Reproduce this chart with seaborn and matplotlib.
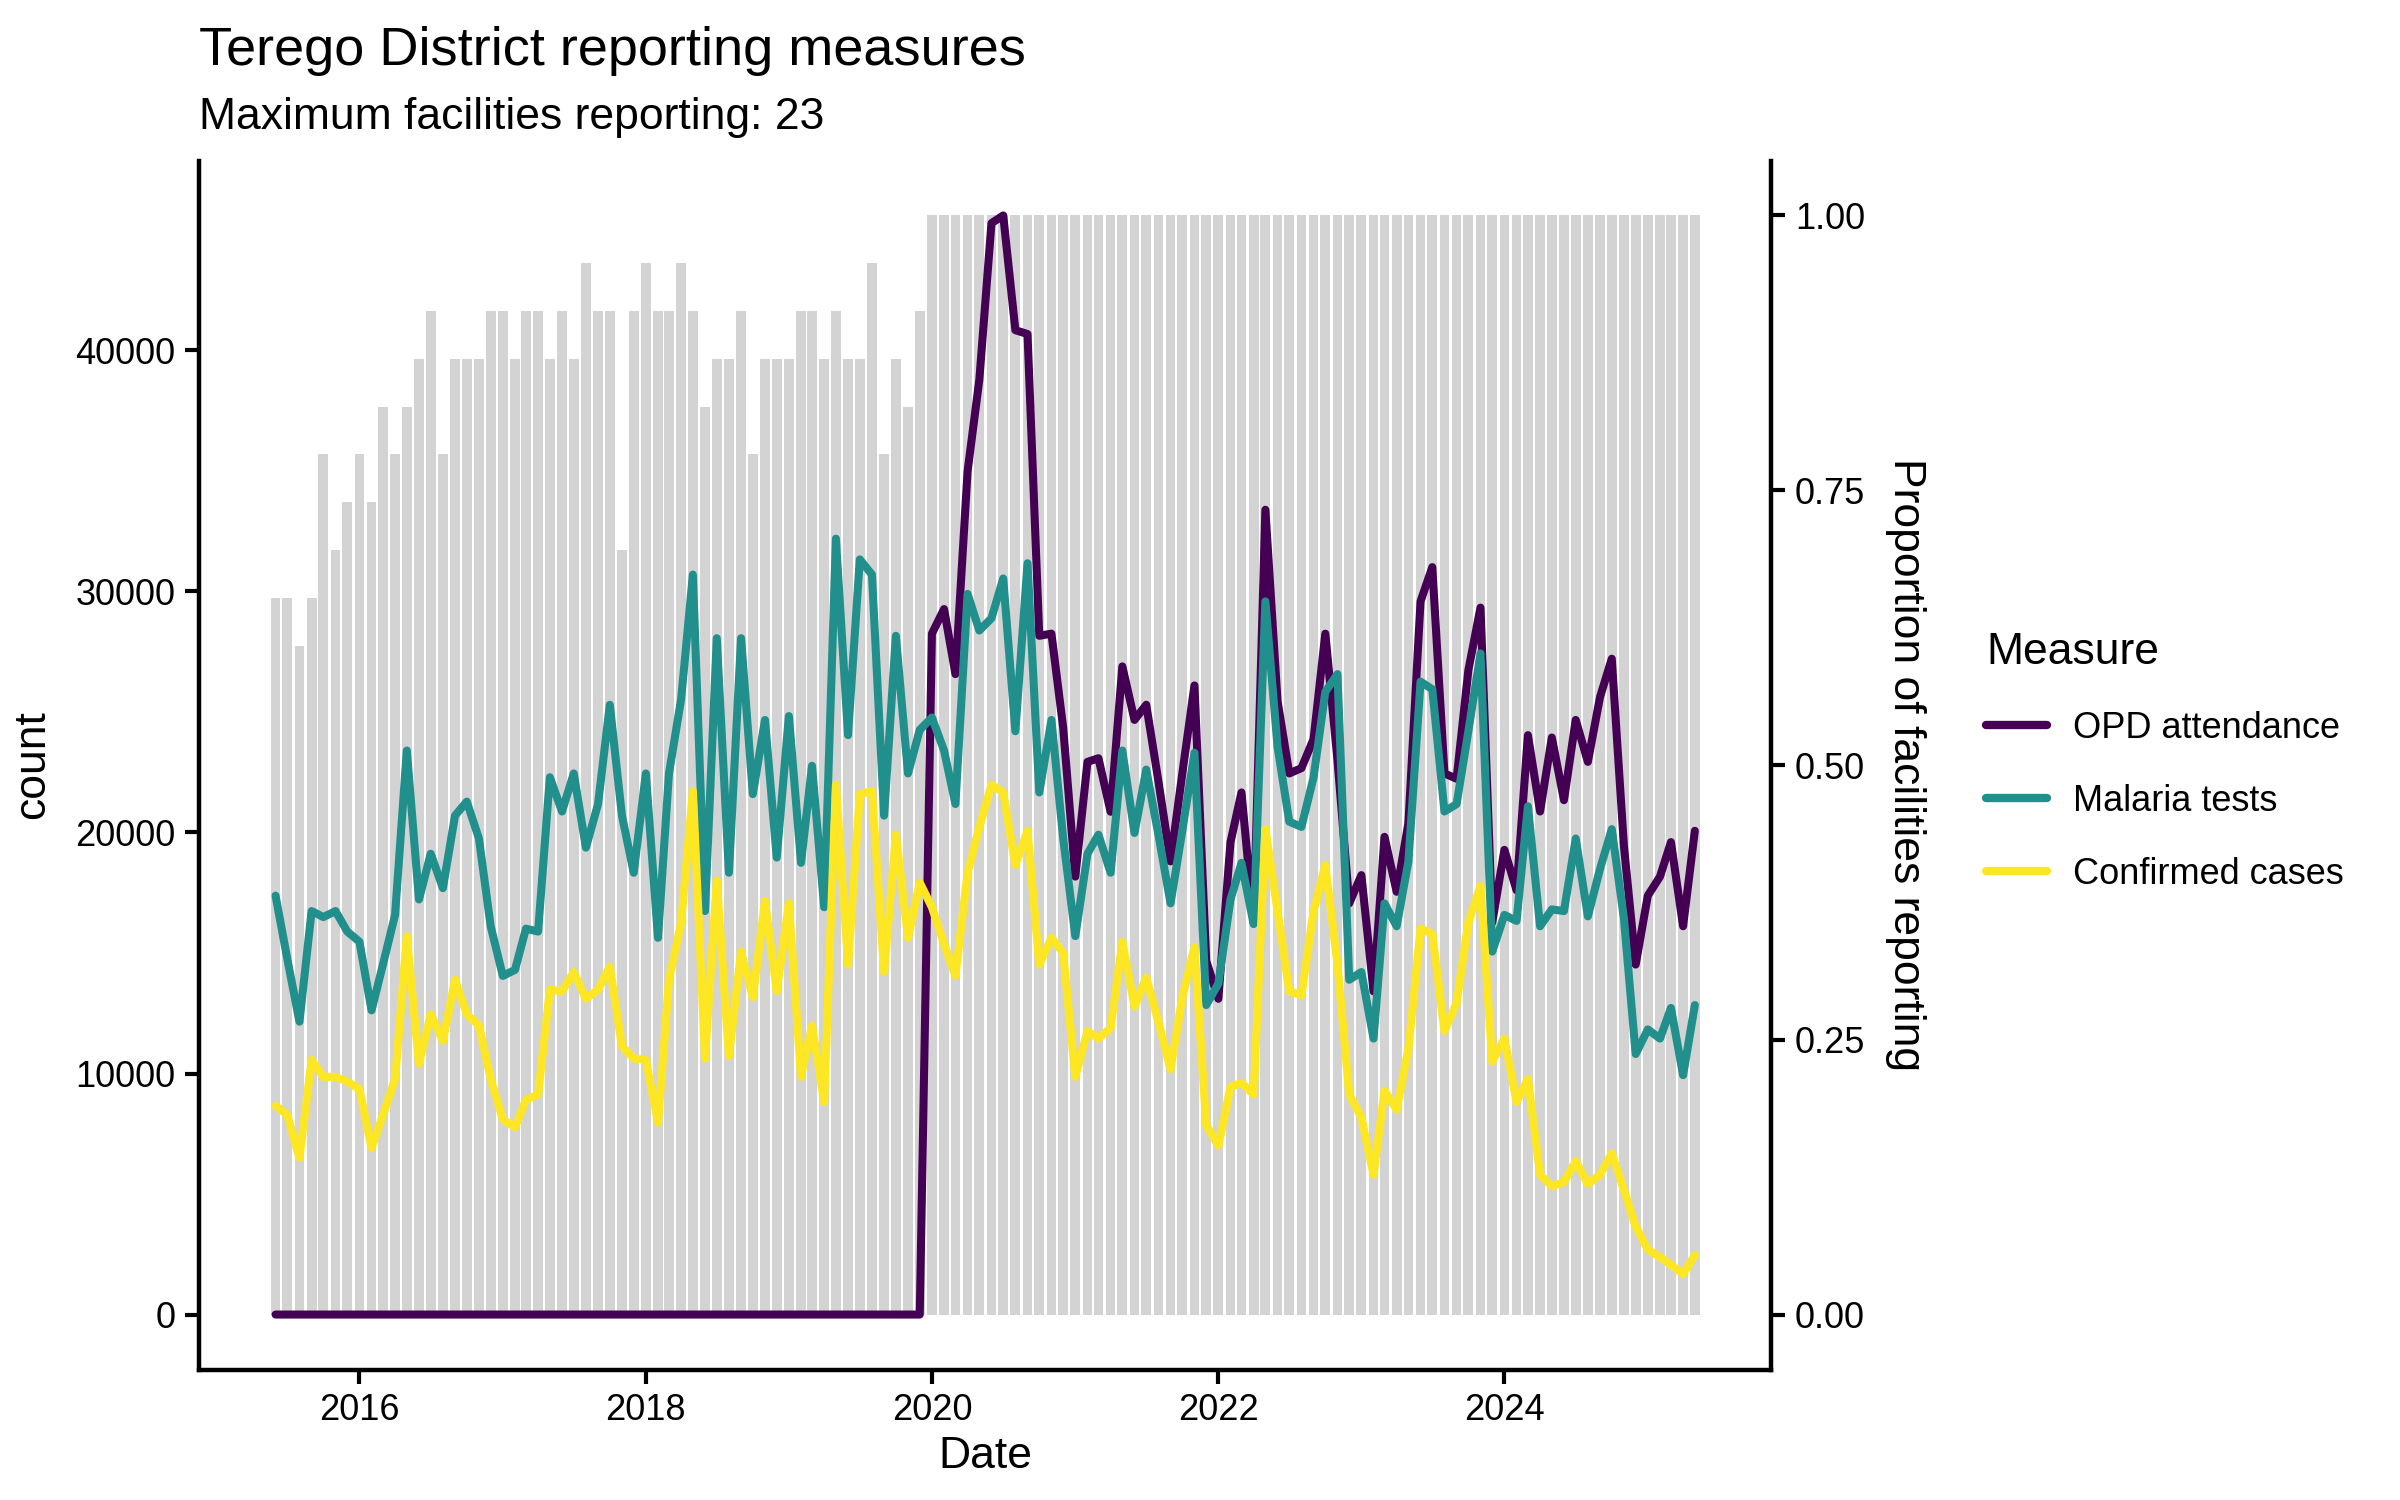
import numpy as np
import pandas as pd
import seaborn as sns
import matplotlib
matplotlib.use('Agg')
import matplotlib.pyplot as plt
import matplotlib.dates as mdates
from matplotlib.ticker import FormatStrFormatter

# monthly data, Jun 2015 - May 2025
dates = pd.date_range('2015-06-01', periods=120, freq='MS')

# facilities reporting (max 23)
facilities = [15, 15, 14, 15, 18, 16, 17, 18, 17, 19, 18, 19, 20, 21, 18, 20,
              20, 20, 21, 21, 20, 21, 21, 20, 21, 20, 22, 21, 21, 16, 21, 22,
              21, 21, 22, 21, 19, 20, 20, 21, 18, 20, 20, 20, 21, 21, 20, 21,
              20, 20, 22, 18, 20, 19, 21] + [23] * 65
max_facilities = 23

opd = [0] * 55 + [
    28250, 29270, 26570, 34980, 38780, 45280, 45600, 40840, 40680, 28160,
    28250, 24350, 18170, 22930, 23080, 20860, 26890, 24670, 25300, 22130,
    18800, 22450, 26100, 14680, 13100, 19600, 21660, 16270, 33390, 25460,
    22450, 22670, 23880, 28250, 23000, 17060, 18230, 13410, 19820, 17540,
    20390, 29590, 31010, 22450, 22230, 26730, 29330, 16270, 19280, 17600,
    24040, 20870, 23940, 21340, 24670, 22930, 25620, 27210, 19440, 14520,
    17380, 18170, 19600, 16110, 20070]

malaria = [
    17380, 14750, 12150, 16740, 16490, 16740, 15890, 15470, 12620, 14520,
    16580, 23400, 17220, 19120, 17690, 20700, 21280, 19750, 16110, 14050,
    14300, 16010, 15890, 22290, 20870, 22450, 19370, 21180, 25300, 20700,
    18330, 22450, 15630, 22450, 25530, 30700, 16740, 28060, 18330, 28060,
    21590, 24670, 18960, 24830, 18740, 22770, 16900, 32190, 24040, 31330,
    30700, 20700, 28160, 22450, 24260, 24770, 23400, 21180, 29900, 28380,
    28890, 30540, 24200, 31170, 21660, 24670, 19750, 15700, 19120, 19910,
    18330, 23400, 19980, 22610, 19910, 17060, 20070, 23310, 12840, 13730,
    17220, 18740, 16200, 29590, 23560, 20450, 20230, 22290, 25840, 26570,
    13890, 14210, 11450, 17060, 16110, 18800, 26260, 25940, 20870, 21180,
    24200, 27430, 15060, 16580, 16330, 21090, 16110, 16810, 16740, 19750,
    16520, 18490, 20140, 16430, 10810, 11830, 11450, 12720, 9930, 12840]

confirmed = [
    8660, 8280, 6500, 10560, 9860, 9860, 9670, 9350, 6910, 8280,
    9770, 15700, 10400, 12460, 11350, 13890, 12460, 11990, 9770, 8090,
    7770, 8910, 9130, 13480, 13410, 14210, 13100, 13480, 14430, 11130,
    10620, 10560, 7960, 13890, 16270, 21720, 10620, 18010, 10720, 15060,
    13160, 17160, 13410, 17060, 9860, 11990, 8820, 21980, 14520, 21590,
    21720, 14210, 19910, 15630, 17920, 16900, 15380, 14050, 18330, 20230,
    21980, 21660, 18650, 20070, 14520, 15630, 15000, 9860, 11760, 11450,
    11890, 15470, 12780, 13980, 12140, 10180, 13160, 15250, 7860, 7010,
    9450, 9610, 9130, 20140, 16740, 13410, 13250, 16740, 18650, 14520,
    9130, 8180, 5800, 9290, 8500, 11030, 16010, 15790, 11760, 12940,
    16270, 17790, 10500, 11450, 8820, 9770, 5800, 5330, 5490, 6370,
    5420, 5800, 6690, 5170, 3650, 2700, 2380, 2060, 1680, 2470]

measures = ['OPD attendance', 'Malaria tests', 'Confirmed cases']
palette = {'OPD attendance': '#440154', 'Malaria tests': '#21908C',
           'Confirmed cases': '#FDE725'}

df = pd.DataFrame({'date': dates, 'OPD attendance': opd,
                   'Malaria tests': malaria, 'Confirmed cases': confirmed})
long = df.melt(id_vars='date', var_name='Measure', value_name='count')

prop = np.array(facilities) / max_facilities
scale = max(long['count'].max(), 1)

sns.set_theme(style='ticks')
plt.rcParams['font.family'] = ['Liberation Sans', 'DejaVu Sans']
plt.rcParams.update({'text.color': 'black', 'axes.labelcolor': 'black',
                     'xtick.color': 'black', 'ytick.color': 'black',
                     'axes.edgecolor': 'black'})

fig = plt.figure(figsize=(12, 7.5), dpi=200)
ax = fig.add_axes([0.083, 0.087, 0.655, 0.806])

# proportion bars, drawn on the count scale
ax.bar(dates, prop * scale, width=25, color='#D3D3D3', linewidth=0, zorder=1)

sns.lineplot(data=long, x='date', y='count', hue='Measure', hue_order=measures,
             palette=palette, linewidth=2.9, ax=ax, zorder=3)

# ggplot-like 5% expansion
x0 = mdates.date2num(dates[0]) - 12.5
x1 = mdates.date2num(dates[-1]) + 12.5
dx = (x1 - x0) * 0.05
ax.set_xlim(x0 - dx, x1 + dx)
ax.set_ylim(-scale * 0.05, scale * 1.05)

ax.xaxis.set_major_locator(mdates.YearLocator(2))
ax.xaxis.set_major_formatter(mdates.DateFormatter('%Y'))
ax.set_yticks([0, 10000, 20000, 30000, 40000])
ax.set_xlabel('Date', fontsize=16, labelpad=3)
ax.set_ylabel('count', fontsize=16, labelpad=8)
ax.tick_params(axis='both', labelsize=13, length=5, width=1.5)

for s in ['top', 'right']:
    ax.spines[s].set_visible(False)
for s in ['left', 'bottom']:
    ax.spines[s].set_linewidth(1.6)

sec = ax.secondary_yaxis('right', functions=(lambda v: v / scale, lambda p: p * scale))
sec.set_yticks([0, 0.25, 0.5, 0.75, 1.0])
sec.yaxis.set_major_formatter(FormatStrFormatter('%.2f'))
sec.tick_params(labelsize=13, length=5, width=1.5)
sec.spines['right'].set_linewidth(1.6)
sec.set_ylabel('Proportion of facilities reporting', fontsize=16, rotation=270, labelpad=22)

handles, labels = ax.get_legend_handles_labels()
ax.get_legend().remove()
leg = fig.legend(handles, labels, title='Measure', loc='center left',
                 bbox_to_anchor=(0.814, 0.492), frameon=False, fontsize=13,
                 title_fontsize=16, handlelength=1.7, labelspacing=1.05,
                 handletextpad=0.7)
leg._legend_box.align = 'left'
for h in leg.get_lines():
    h.set_linewidth(3)

fig.text(0.083, 0.957, 'Terego District reporting measures', fontsize=19.5, ha='left')
fig.text(0.083, 0.914, 'Maximum facilities reporting: 23', fontsize=16, ha='left')

fig.savefig('out.png', dpi=200)
